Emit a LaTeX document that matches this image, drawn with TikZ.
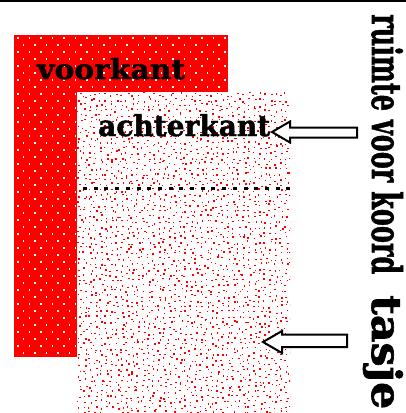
\documentclass[tikz,border=0pt]{standalone}
\usepackage{fontspec}
\setmainfont{DejaVu Serif}[BoldFeatures={FakeBold=1.5}]
\begin{document}
\begin{tikzpicture}[x=1pt,y=-1pt,
  lbl/.style={inner sep=0pt, font=\bfseries},
  hollowarrow/.style={draw=black, line width=2pt, fill=white, line join=miter},
  fold/.style={line width=3pt, dash pattern=on 4pt off 6.7pt}]
\useasboundingbox (0,0) rectangle (406,413);
\fill[white] (0,0) rectangle (406,413);
\draw[line width=1.5pt] (0,0.75) -- (406,0.75);
% voorkant (front)
\fill[red] (14,35) rectangle (228,357);
\begin{scope}
\clip (14,35) rectangle (228,357);
\foreach \r in {0,...,45} {
  \foreach \c in {0,...,19} {
    \pgfmathsetmacro\xx{17+\c*11.5+mod(\r,2)*5.75}
    \pgfmathsetmacro\yy{37+\r*7}
    \fill[white] (\xx,\yy) rectangle ++(1.5,1.5);
  }
}
\end{scope}
% achterkant (back)
\fill[white] (77,92) rectangle (290,413);
\pgfmathsetseed{7}
\begin{scope}
\clip (77,92) rectangle (290,413);
\foreach \r in {0,...,60} {
  \foreach \c in {0,...,40} {
    \pgfmathsetmacro\xx{77+\c*5.3+rnd*4}
    \pgfmathsetmacro\yy{92+\r*5.3+rnd*4}
    \pgfmathsetmacro\ww{1+rnd*1}
    \pgfmathsetmacro\hh{1+rnd*0.8}
    \fill[red] (\xx,\yy) rectangle ++(\ww,\hh);
  }
}
\end{scope}
\coordinate (foldL) at (83,188);
\coordinate (foldR) at (290,188);
\draw[fold] (foldL) -- (foldR);
% labels
\node[lbl, anchor=base west] (front) at (37,79) {\resizebox{148pt}{21pt}{voorkant}};
\node[lbl, anchor=base west] (back) at (98,136) {\resizebox{172pt}{22pt}{achterkant}};
\node[lbl, anchor=base west, rotate=-90] (cord) at (372,14) {\resizebox{260pt}{31pt}{ruimte voor koord}};
\node[lbl, anchor=base west, rotate=-90] (bag) at (372,295) {\resizebox{114pt}{31pt}{tasje}};
% arrows
\coordinate (tipA) at (272,132);
\coordinate (tipB) at (263,342);
\draw[hollowarrow] (357,127.5) -- (290,127.5) -- (290,121.5) -- (tipA) -- (290,142.5) -- (290,137.5) -- (357,137.5) -- cycle;
\draw[hollowarrow] (347,334.5) -- (282,334.5) -- (282,331) -- (tipB) -- (282,353) -- (282,347) -- (347,347) -- cycle;
\end{tikzpicture}
\end{document}
